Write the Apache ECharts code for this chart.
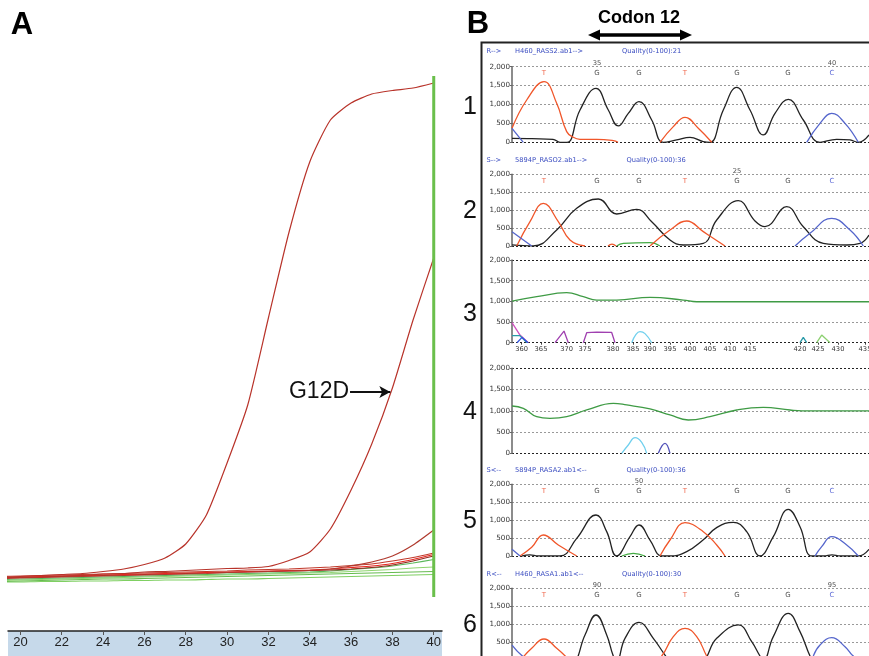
<!DOCTYPE html>
<html><head><meta charset="utf-8">
<script src="https://cdn.jsdelivr.net/npm/echarts@6/dist/echarts.min.js"></script>
<style>html,body{margin:0;padding:0;background:#fff}#c{width:869px;height:656px}</style>
</head><body><div id="c"></div>
<script>
// ---------- Panel A : real-time PCR amplification plot ----------
const cycles = [19,20,21,22,23,24,25,26,27,28,29,30,31,32,33,34,35,36,37,38,39,40];
const cycleTicks = [20,22,24,26,28,30,32,34,36,38,40];
const rnWildHigh = [0.53,0.545,0.555,0.565,0.575,0.595,0.62,0.665,0.73,0.87,1.16,1.68,2.26,3.13,3.99,4.69,5.11,5.28,5.37,5.405,5.43,5.48];
const rnG12D     = [0.53,0.535,0.54,0.55,0.555,0.57,0.575,0.59,0.595,0.605,0.615,0.625,0.63,0.645,0.705,0.79,1.02,1.41,1.87,2.43,3.11,3.73];
const rnRed3     = [0.525,0.53,0.535,0.54,0.545,0.55,0.555,0.56,0.565,0.57,0.575,0.585,0.59,0.595,0.60,0.605,0.62,0.65,0.69,0.75,0.86,1.01];
const rnRedA     = [0.545,0.55,0.555,0.56,0.565,0.57,0.575,0.58,0.585,0.59,0.595,0.60,0.61,0.615,0.62,0.63,0.64,0.655,0.67,0.70,0.735,0.78];
const rnRedB     = [0.535,0.54,0.545,0.55,0.555,0.56,0.565,0.57,0.575,0.58,0.585,0.59,0.595,0.60,0.605,0.61,0.62,0.635,0.65,0.675,0.715,0.765];
const rnRedC     = [0.53,0.535,0.54,0.545,0.55,0.555,0.56,0.565,0.57,0.575,0.58,0.585,0.59,0.595,0.60,0.605,0.61,0.62,0.635,0.66,0.70,0.75];
const rnGreen1   = [0.515,0.52,0.525,0.53,0.535,0.54,0.545,0.55,0.555,0.56,0.565,0.57,0.575,0.58,0.585,0.59,0.60,0.615,0.63,0.65,0.68,0.715];
const rnGreen2   = [0.505,0.51,0.515,0.52,0.525,0.53,0.535,0.54,0.545,0.55,0.555,0.56,0.565,0.57,0.575,0.58,0.585,0.595,0.605,0.615,0.63,0.64];
const rnGreen3   = [0.495,0.50,0.505,0.51,0.515,0.52,0.52,0.525,0.53,0.535,0.54,0.545,0.55,0.555,0.56,0.565,0.57,0.575,0.58,0.585,0.59,0.595];
const rnGreen4   = [0.49,0.49,0.495,0.495,0.50,0.50,0.505,0.505,0.51,0.51,0.515,0.52,0.52,0.525,0.53,0.535,0.54,0.545,0.55,0.555,0.56,0.565];
const endMarker  = [[40,0.34],[40,5.55]];
const g12dArrow  = {from:35.95, to:37.9, rn:2.39};

// ---------- Panel B : sequencing traces (scan position, signal) ----------
const basePos   = [32,85,127,173,225,276,320];
const baseCalls = ['T','G','G','T','G','G','C'];
const baseNums  = [{1:'35',6:'40'}, {4:'25'}, null, null, {2:'50'}, {1:'90',6:'95'}];
const scanTicks  = [9.7,29,54.7,73,101,121,138,158,178,198,218,238,288,306,326,353];
const scanLabels = ['360','365','370','375','380','385','390','395','400','405','410','415','420','425','430','435'];
const headers = [
  ['R-->','H460_RASS2.ab1-->','Quality(0-100):21'],
  ['S-->','5894P_RASO2.ab1-->','Quality(0-100):36'],
  null, null,
  ['S<--','5894P_RASA2.ab1<--','Quality(0-100):36'],
  ['R<--','H460_RASA1.ab1<--','Quality(0-100):30']
];

const p1Red   = [[0,370],[14.7,1119],[32,1603],[44.7,1031],[54.7,282],[61.3,132],[68,80],[84.7,80],[101.3,44],[106,0],[127,'-'],[148,0],[161.3,414],[173,660],[186.3,370],[199.7,0]];
const p1Black = [[0,106],[20,95],[41,80],[48,0],[55,0],[68,854],[84,1427],[96.3,854],[106.3,432],[116.3,766],[127,1075],[139.7,590],[151.3,0],[164.7,62],[178,132],[191.3,18],[198,0],[211.3,854],[224.7,1454],[238,854],[251.3,194],[263,766],[276.3,1136],[291.3,590],[308,0],[324.7,80],[338,62],[346.3,0],[357,194]];
const p1Blue  = [[0,370],[11.3,0],[40,'-'],[294.7,0],[308,502],[319.7,766],[333,502],[346.3,0]];

const p2Red   = [[4.7,0],[18,679],[31.3,1190],[46.3,679],[58,167],[73,0],[90,'-'],[96,0],[100,50],[104,0],[120,'-'],[138,0],[158,446],[174.7,698],[191.3,400],[213,0]];
const p2Black = [[0,30],[21.3,0],[44.7,446],[64.7,1051],[86.3,1311],[104.7,893],[124.7,1023],[139.7,679],[158,167],[171.3,28],[191.3,74],[204.7,725],[226.3,1265],[243,698],[253,539],[274.7,1097],[291.3,539],[311.3,74],[334.7,28],[348,74],[357,307]];
const p2Blue  = [[0,400],[19.7,0],[40,'-'],[283,0],[298,353],[319.7,772],[338,446],[351.3,0]];
const p2Green = [[104.7,0],[111.3,74],[138,93],[148,0]];

const p3Green   = [[0,1008],[24.7,1112],[54.7,1209],[71.3,1112],[84.7,1032],[104.7,1032],[138,1096],[171.3,1032],[184.7,990],[220,990],[357,990]];
const p3Magenta = [[0,484],[8,185],[16.3,0]];
const p3Teal    = [[0,170],[8,170],[15,0],[40,'-'],[288,0],[291.3,129],[294.7,0]];
const p3Blue    = [[5,0],[10,130],[16,0]];
const p3Purple  = [[43,0],[52,282],[56.3,0],[64,'-'],[71.3,0],[74.7,242],[84.7,258],[99.7,248],[103,0]];
const p3Cyan    = [[119.7,0],[124,200],[128,266],[133,220],[139.7,0]];
const p3Lime    = [[304.7,0],[309.7,185],[318,0]];

const p4Green = [[0,1113],[11.3,1058],[24.7,862],[38,823],[54.7,862],[74.7,1019],[101.3,1176],[114.7,1137],[138,1043],[158,902],[176.3,784],[198,862],[224.7,1019],[251.3,1082],[278,1019],[290,1000],[357,1000]];
const p4Cyan  = [[109.7,0],[116.3,196],[123,368],[129.7,259],[134.7,0]];
const p4Navy  = [[146.3,0],[153,235],[158,0]];

const p5Red   = [[8,0],[19.7,242],[31.3,586],[46.3,307],[64.7,0],[100,'-'],[148,0],[158,446],[173,930],[191.3,679],[204.7,307],[213,0]];
const p5Black = [[10,0],[18,30],[26,0],[48,0],[64.7,493],[84,1144],[94.7,679],[104.7,0],[118,539],[127,865],[138,446],[149.7,0],[158,0],[174.7,120],[191.3,450],[205,800],[221.3,939],[234.7,679],[248,0],[261.3,539],[276.3,1302],[288,818],[299.7,0],[312,0],[320,30],[328,0],[346.3,0],[357,186]];
const p5Blue  = [[0,186],[8,0],[40,'-'],[303,0],[309.7,260],[319.7,539],[334.7,307],[346.3,0]];
const p5Green = [[109.7,0],[121.3,74],[133,0]];

const p6Red   = [[8,0],[19.7,341],[32,599],[44.7,341],[58,0],[100,'-'],[142,0],[149.7,129],[161.3,664],[173,894],[184.7,664],[194.7,129],[198,0]];
const p6Black = [[56,0],[61.3,0],[73,710],[84,1263],[94.7,710],[101.3,129],[104.7,0],[113,618],[127,1060],[141.3,618],[153,157],[158,0],[188,0],[204.7,618],[226.3,987],[239.7,526],[248,129],[251.3,0],[261.3,664],[276.3,1309],[288,802],[298,129],[301.3,0]];
const p6Blue  = [[0,433],[11.3,110],[20,0],[40,'-'],[301.3,129],[308,433],[319.7,636],[333,387],[341.3,129],[350,0]];

// ---------- styling ----------
const C_BLACK='#222', C_RED='#f0562a', C_BLUE='#5566cc', C_GREEN='#3f9b45';
const baseColor = {T:'#ee4422', G:'#222', C:'#3344cc'};
const smallFont = 'DejaVu Sans';
const panelTops = [66.7,174.3,260,368.3,484.3,588.3];
const panelHeights = [75.6,71.7,82.7,85,71.7,72.4];
const panelNumY = [107,211,314,412,521,625];
const headerY = [51.7,160,null,null,470,574];
const headerX = [[486.5,515,622],[486.5,515,626.5],null,null,[486.5,515,626.5],[486.5,515,622]];

const traces = [
  [[p1Black,C_BLACK],[p1Red,C_RED],[p1Blue,C_BLUE]],
  [[p2Green,'#44aa44'],[p2Black,C_BLACK],[p2Red,C_RED],[p2Blue,C_BLUE]],
  [[p3Green,C_GREEN],[p3Magenta,'#d050c0',false],[p3Teal,'#2a9aa8',false],[p3Blue,'#3355dd',false],[p3Purple,'#a040b0',false],[p3Cyan,'#70d0ee'],[p3Lime,'#8cd070',false]],
  [[p4Green,C_GREEN],[p4Cyan,'#70d0ee'],[p4Navy,'#5050b8']],
  [[p5Green,'#44aa44'],[p5Black,C_BLACK],[p5Red,C_RED],[p5Blue,C_BLUE]],
  [[p6Black,C_BLACK],[p6Red,C_RED],[p6Blue,C_BLUE]]
];

const commaFmt = v => String(v).replace(/\B(?=(\d{3})+(?!\d))/g, ',');

const grids = [{left:8, top:0, width:434, height:631, outerBoundsMode:'none', containLabel:false}];
const xAxes = [{
  type:'value', gridIndex:0, min:19.4, max:40.4, z:5,
  axisLine:{show:true, lineStyle:{color:'#222', width:1.5}},
  axisTick:{show:true, customValues:cycleTicks, length:4, lineStyle:{color:'#555'}},
  axisLabel:{show:true, customValues:cycleTicks, fontSize:13, color:'#222', margin:5, fontFamily:'Liberation Sans'},
  splitLine:{show:false}
}];
const yAxes = [{type:'value', gridIndex:0, min:0, max:6.31, show:false}];
const series = [];

function aLine(arr, color, width) {
  return {type:'line', xAxisIndex:0, yAxisIndex:0, data:cycles.map((c,i)=>[c,arr[i]]),
    showSymbol:false, smooth:0.2, lineStyle:{color, width:width||1.2}, itemStyle:{color}, silent:true};
}
series.push(aLine(rnGreen4,'#7fcf62'), aLine(rnGreen3,'#66bb50'), aLine(rnGreen2,'#8fd46f'), aLine(rnGreen1,'#5cb85c'));
series.push(aLine(rnRedC,'#8e2a20'), aLine(rnRedB,'#e8261e'), aLine(rnRedA,'#c0392b'), aLine(rnRed3,'#b03a2e'));
series.push(aLine(rnWildHigh,'#b8332a'));
const g12d = aLine(rnG12D,'#b8332a');
g12d.markLine = {
  silent:true, animation:false, symbol:['none','arrow'], symbolSize:[9,11],
  lineStyle:{color:'#111', width:2, type:'solid'},
  label:{show:true, position:'start', formatter:'G12D', fontSize:23, color:'#111', fontFamily:'Liberation Sans', distance:1},
  data:[[{coord:[g12dArrow.from, g12dArrow.rn]},{coord:[g12dArrow.to, g12dArrow.rn]}]]
};
series.push(g12d);
series.push({type:'line', xAxisIndex:0, yAxisIndex:0, data:endMarker, showSymbol:false,
  lineStyle:{color:'#6abf4b', width:3}, silent:true});

for (let p = 0; p < 6; p++) {
  const gi = p + 1;
  const isScale = (p === 2);
  const darkTop = (p === 2 || p === 3);
  grids.push({left:512, right:0, top:panelTops[p], height:panelHeights[p], outerBoundsMode:'none', containLabel:false});
  xAxes.push({
    type:'value', gridIndex:gi, min:0, max:357,
    axisLine:{show:false},
    axisTick:{show:isScale, customValues:scanTicks, length:2, inside:false, lineStyle:{color:'#444'}},
    axisLabel:{show:isScale, customValues:scanTicks, fontSize:6.7, color:'#333', margin:3, fontFamily:smallFont, hideOverlap:false,
      formatter:v=>{let k=0,b=1e9;scanTicks.forEach((t,i)=>{if(Math.abs(t-v)<b){b=Math.abs(t-v);k=i;}});return scanLabels[k];}},
    splitLine:{show:false}
  });
  yAxes.push({
    type:'value', gridIndex:gi, min:0, max:2000, interval:500,
    axisLine:{show:true, lineStyle:{color:'#666', width:1.5}},
    axisTick:{show:true, length:2, lineStyle:{color:'#666'}},
    axisLabel:{fontSize:7.2, color:'#333', margin:2, fontFamily:smallFont, formatter:commaFmt},
    splitLine:{show:true, lineStyle:{type:[2,2], width:1,
      color: darkTop ? ['#222','#999','#999','#999','#222'] : ['#222','#999','#999','#999','#999']}}
  });
  traces[p].forEach(t => {
    series.push({type:'line', xAxisIndex:gi, yAxisIndex:gi, data:t[0], showSymbol:false,
      smooth: t[2]===false ? false : 0.45, connectNulls:false,
      lineStyle:{color:t[1], width:1.3}, itemStyle:{color:t[1]}, silent:true});
  });
  if (headers[p]) {
    series.push({type:'scatter', xAxisIndex:gi, yAxisIndex:gi, silent:true, clip:false,
      symbolSize:1, itemStyle:{color:'transparent'},
      data: basePos.map((x,i)=>({value:[x,1820], label:{show:true, position:'inside', formatter:baseCalls[i],
        color:baseColor[baseCalls[i]], fontSize:7, fontFamily:smallFont}}))});
    const nums = baseNums[p];
    series.push({type:'scatter', xAxisIndex:gi, yAxisIndex:gi, silent:true, clip:false,
      symbolSize:1, itemStyle:{color:'transparent'},
      data: Object.keys(nums).map(k=>({value:[basePos[k],2090], label:{show:true, position:'inside', formatter:nums[k],
        color:'#222', fontSize:6.7, fontFamily:smallFont}}))});
  }
}

// ---------- annotations ----------
const T = (text, x, y, font, fill, align) => ({type:'text', x, y, silent:true, z:20,
  style:{text, font, fill, textAlign:align||'center', textVerticalAlign:'middle', align:align||'center', verticalAlign:'middle'}});
const graphic = [
  {type:'rect', z:-1, silent:true, shape:{x:8, y:631, width:434, height:25}, style:{fill:'#c6d9ea'}},
  T('A', 22, 25, 'bold 31px "Liberation Sans"', '#000'),
  T('B', 478, 24, 'bold 31px "Liberation Sans"', '#000'),
  T('Codon 12', 639, 18.5, 'bold 18px "Liberation Sans"', '#000'),
  {type:'line', silent:true, shape:{x1:597, y1:35, x2:683, y2:35}, style:{stroke:'#000', lineWidth:3.5}},
  {type:'polygon', silent:true, shape:{points:[[588,35],[600,29.5],[600,40.5]]}, style:{fill:'#000'}},
  {type:'polygon', silent:true, shape:{points:[[692,35],[680,29.5],[680,40.5]]}, style:{fill:'#000'}},
  {type:'rect', silent:true, z:10, shape:{x:481.5, y:42.5, width:500, height:700}, style:{fill:'none', stroke:'#222', lineWidth:2}}
];
panelNumY.forEach((y,i)=>graphic.push(T(String(i+1), 470, y, '25px "Liberation Sans"', '#111')));
headers.forEach((h,p)=>{
  if (!h) return;
  h.forEach((s,j)=>graphic.push(T(s, headerX[p][j], headerY[p], '6.7px "DejaVu Sans"', '#3a4cc0', 'left')));
});

const chart = echarts.init(document.getElementById('c'), null, {renderer:'canvas'});
chart.setOption({animation:false, backgroundColor:'#fff', grid:grids, xAxis:xAxes, yAxis:yAxes, series, graphic});
</script></body></html>
